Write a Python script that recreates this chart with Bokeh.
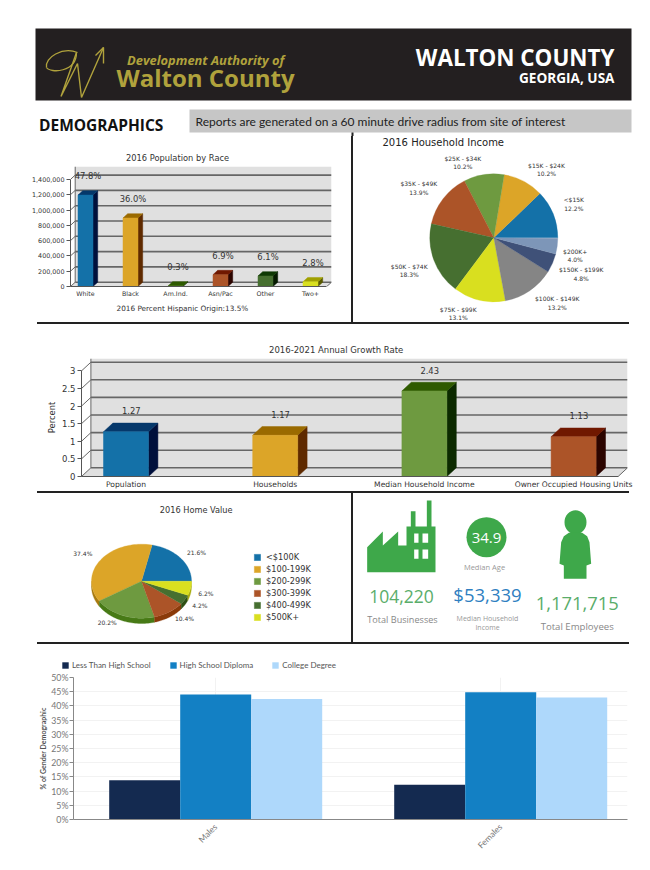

import math
import numpy as np
from bokeh.plotting import figure
from bokeh.layouts import column, row
from bokeh.embed import file_html
from bokeh.resources import INLINE
from bokeh.models import (Label, Range1d, FixedTicker, NumeralTickFormatter, Legend, LegendItem,
                          Spacer, Title)

# ---------------- data ----------------
race_cats = ["White", "Black", "Am.Ind.", "Asn/Pac", "Other", "Two+"]
race_vals = [1195000, 895000, 7500, 155000, 138000, 62000]
race_pcts = ["47.8%", "36.0%", "0.3%", "6.9%", "6.1%", "2.8%"]
race_ticks = [0, 200000, 400000, 600000, 800000, 1000000, 1200000, 1400000]

income_cats = ["<$15K", "$15K - $24K", "$25K - $34K", "$35K - $49K", "$50K - $74K",
               "$75K - $99K", "$100K - $149K", "$150K - $199K", "$200K+"]
income_vals = [12.2, 10.2, 10.2, 13.9, 18.3, 13.1, 13.2, 4.8, 4.0]

growth_cats = ["Population", "Households", "Median Household Income", "Owner Occupied Housing Units"]
growth_vals = [1.27, 1.17, 2.43, 1.13]
growth_ticks = [0, 0.5, 1, 1.5, 2, 2.5, 3]

home_cats = ["<$100K", "$100-199K", "$200-299K", "$300-399K", "$400-499K", "$500K+"]
home_vals = [21.6, 37.4, 20.2, 10.4, 4.2, 6.2]

edu_groups = ["Males", "Females"]
edu_series = ["Less Than High School", "High School Diploma", "College Degree"]
edu_less = [13.8, 12.2]
edu_hs = [44.0, 44.8]
edu_college = [42.4, 43.0]

# ---------------- styles ----------------
FRONT = ["#1471a8", "#dca528", "#6e9a40", "#ac5428", "#466f30", "#d9df1f"]
TOP = ["#05386b", "#9a6a00", "#2f5a00", "#701800", "#0f3a05", "#a0a000"]
SIDE = ["#00103c", "#5f2a00", "#0c2a00", "#2c0500", "#051a00", "#5a5a00"]
PIE_SIDE = ["#0c4a78", "#a87a10", "#477a16", "#8a3a0a", "#2e5015", "#a8ac10"]
INCOME_COL = FRONT + ["#858585", "#3f5178", "#7d96b8"]
EDU_COL = ["#142a50", "#1380c4", "#aed8fb"]
WALL = "#e0e0e0"
GRID = "#666666"
TXT = "#333333"
VF = "DejaVu Sans"
GREEN = "#3ea84a"
GOLD = "#b0a23c"


def base_fig(w, h, xr, yr, **kw):
    p = figure(width=w, height=h, x_range=Range1d(*xr), y_range=Range1d(*yr),
               output_backend="svg", toolbar_location=None, **kw)
    p.outline_line_color = None
    p.background_fill_color = None
    p.border_fill_color = "white"
    p.grid.visible = False
    return p


def blank_fig(w, h, xr, yr):
    p = base_fig(w, h, xr, yr, x_axis_location=None, y_axis_location=None,
                 min_border_left=0, min_border_right=0, min_border_top=0, min_border_bottom=0)
    return p


class Map:
    """image pixel -> data coordinates for a frame"""
    def __init__(self, l, r, t, b, xs, xe, ys, ye):
        self.__dict__.update(locals())

    def x(self, px):
        return self.xs + (px - self.l) / (self.r - self.l) * (self.xe - self.xs)

    def y(self, py):
        return self.ys + (self.b - py) / (self.b - self.t) * (self.ye - self.ys)


def tx(p, m, px, py, text, size, color=TXT, font=VF, align="center", style="normal", angle=0, baseline="middle"):
    p.add_layout(Label(x=m.x(px), y=m.y(py), text=text, text_font=font, text_font_size=f"{size}px",
                       text_color=color, text_align=align, text_baseline=baseline,
                       text_font_style=style, angle=angle, x_units="data", y_units="data"))


def side_title(p, side, text, size, offset, standoff):
    p.add_layout(Title(text=text, align="left", offset=offset, standoff=standoff, text_font=VF,
                       text_font_size=f"{size}px", text_font_style="normal", text_color=TXT), side)


def bars3d(p, xs, vals, halfw, dx, dy, front, top, side):
    xs = np.asarray(xs, float)
    vals = np.asarray(vals, float)
    tx_ = [[x - halfw, x + halfw, x + halfw + dx, x - halfw + dx] for x in xs]
    ty_ = [[v, v, v + dy, v + dy] for v in vals]
    sx_ = [[x + halfw, x + halfw + dx, x + halfw + dx, x + halfw] for x in xs]
    sy_ = [[0, dy, v + dy, v] for v in vals]
    p.patches(sx_, sy_, fill_color=side, line_color=side, line_width=0.5)
    p.patches(tx_, ty_, fill_color=top, line_color=top, line_width=0.5)
    p.quad(left=xs - halfw, right=xs + halfw, bottom=0, top=vals, fill_color=front, line_color=front, line_width=0.5)


def wall3d(p, xs, xe, ye, dx, dy, ticks):
    p.quad(left=[xs + dx], right=[xe], bottom=[dy], top=[ye], fill_color=WALL, line_color=None)
    p.patch([xs, xs + dx, xe, xe - dx], [0, dy, dy, 0], fill_color=WALL, line_color=None)
    p.line([xe, xe - dx], [dy, 0], line_color=GRID, line_width=1)
    p.segment(x0=[xs + dx] * len(ticks), x1=[xe] * len(ticks),
              y0=[t + dy for t in ticks], y1=[t + dy for t in ticks], line_color=GRID, line_width=1.6)
    p.segment(x0=[xs] * len(ticks), x1=[xs + dx] * len(ticks),
              y0=list(ticks), y1=[t + dy for t in ticks], line_color=GRID, line_width=1)
    p.line([xs + dx, xs + dx], [dy, ye], line_color=GRID, line_width=1)


def style_axes(p, ysize, xsize, ylabel_standoff=3, xstandoff=3):
    p.yaxis.major_label_text_font = VF
    p.yaxis.major_label_text_font_size = f"{ysize}px"
    p.yaxis.major_label_text_color = TXT
    p.yaxis.axis_line_color = "#555555"
    p.yaxis.major_tick_line_color = "#555555"
    p.yaxis.major_tick_in = 0
    p.yaxis.major_tick_out = 4
    p.yaxis.minor_tick_line_color = None
    p.yaxis.major_label_standoff = ylabel_standoff
    p.xaxis.major_label_text_font = VF
    p.xaxis.major_label_text_font_size = f"{xsize}px"
    p.xaxis.major_label_text_color = TXT
    p.xaxis.axis_line_color = "#555555"
    p.xaxis.major_tick_line_color = None
    p.xaxis.minor_tick_line_color = None
    p.xaxis.major_tick_out = 0
    p.xaxis.major_tick_in = 0
    p.xaxis.major_label_standoff = xstandoff


# ---------------- header ----------------
HEAD_B = 136
hm = Map(8, 642, 8, HEAD_B, 8, 642, HEAD_B, 8)
header = blank_fig(634, HEAD_B - 8, (8, 642), (HEAD_B, 8))
header.quad(left=[35], right=[631], top=[28], bottom=[100], fill_color="#231f20", line_color=None)
header.quad(left=[189], right=[631], top=[109], bottom=[132], fill_color="#c6c6c6", line_color=None)
header.quad(left=[351], right=[353], top=[132], bottom=[HEAD_B], fill_color="#222222", line_color=None)
# logo scrawl
header.bezier(x0=[77], y0=[52], x1=[46], y1=[67], cx0=[62], cy0=[46], cx1=[44], cy1=[57],
              line_color=GOLD, line_width=1.3)
header.bezier(x0=[46], y0=[67], x1=[76], y1=[52], cx0=[50], cy0=[73], cx1=[76], cy1=[72],
              line_color=GOLD, line_width=1.3)
header.multi_line([[76, 60.5, 77, 81, 103], [95, 103, 103]],
                  [[52, 96, 63, 97, 47], [55, 47, 63]], line_color=GOLD, line_width=1.4)
tx(header, hm, 126.5, 59, "Development Authority of", 12.9, GOLD, "Open Sans", "left", "bold italic")
tx(header, hm, 116, 77, "Walton County", 24, GOLD, "Open Sans", "left", "bold")
tx(header, hm, 614, 57, "WALTON COUNTY", 22.4, "white", "Open Sans", "right", "bold")
tx(header, hm, 614, 76.5, "GEORGIA, USA", 13.6, "white", "Open Sans", "right", "bold")
tx(header, hm, 38.5, 124, "DEMOGRAPHICS", 15.5, "#111111", "Open Sans", "left", "bold")
tx(header, hm, 195, 121, "Reports are generated on a 60 minute drive radius from site of interest",
   12, "#222222", "Lato", "left")

# ---------------- population by race ----------------
R_L, R_R, R_T, R_B = 70, 331, 166, 286
R_PXV = 15.3 / 200000
rxs, rxe = (R_L - 85) / 45, (R_R - 85) / 45
rye = (R_B - R_T) / R_PXV
rm = Map(R_L, R_R, R_T, R_B, rxs, rxe, 0, rye)
race = base_fig(343, 322 - HEAD_B, (rxs, rxe), (0, rye), min_border_left=R_L - 8, min_border_right=351 - R_R,
                min_border_top=R_T - HEAD_B, min_border_bottom=322 - R_B)
R_DX, R_DY = 4.7 / 45, 4.3 / R_PXV
wall3d(race, rxs, rxe, rye, R_DX, R_DY, race_ticks)
rx = np.arange(len(race_cats))
bars3d(race, rx, race_vals, 7.5 / 45, R_DX, R_DY, FRONT, TOP, SIDE)
race.text(x=rx + 2.5 / 45, y=race_vals, text=race_pcts, y_offset=-18.6, text_align="center",
          text_baseline="middle", text_font_size="8.4px", text_font={"value": VF}, text_color=TXT)
race.xaxis.ticker = FixedTicker(ticks=list(rx))
race.xaxis.major_label_overrides = {int(i): c for i, c in enumerate(race_cats)}
race.yaxis.ticker = FixedTicker(ticks=race_ticks)
race.yaxis.formatter = NumeralTickFormatter(format="0,0")
race.xaxis.bounds = (rxs, rxe - R_DX)
race.yaxis.bounds = (0, 1400000)
style_axes(race, 6.4, 6.3, 2, 3)
side_title(race, "above", "2016 Population by Race", 8.3, 55.5, 7)
side_title(race, "below", "2016 Percent Hispanic Origin:13.5%", 7.3, 46, 5)

# ---------------- household income ----------------
IC_X, IC_Y, IC_R = 493.3, 237.3, 64
im = Map(353, 642, HEAD_B, 322, 353 - IC_X, 642 - IC_X, IC_Y - 322, IC_Y - HEAD_B)
income = blank_fig(289, 322 - HEAD_B, (353 - IC_X, 642 - IC_X), (IC_Y - 322, IC_Y - HEAD_B))
fr = np.cumsum([0] + income_vals) / 100 * 2 * math.pi
income.wedge(x=[0] * len(income_vals), y=[0] * len(income_vals), radius=IC_R, start_angle=fr[:-1], end_angle=fr[1:],
             fill_color=INCOME_COL, line_color=INCOME_COL, line_width=0.3)
income_lab = [(573.3, 199.3), (546, 165), (462.3, 158), (418.3, 183.3), (408.7, 266),
              (457.7, 308.7), (556.7, 298.3), (580.7, 269.3), (574.7, 250.7)]
for (lx, ly), c, v in zip(income_lab, income_cats, income_vals):
    tx(income, im, lx, ly, c, 6)
    tx(income, im, lx, ly + 8.3, f"{v:.1f}%", 6)
tx(income, im, 382, 142, "2016 Household Income", 10, "#222222", VF, "left")

# ---------------- growth ----------------
G_L, G_R, G_T, G_B = 81, 627, 358, 476
G_PXV, G_STEP, G_C0 = 35.2, 149.2, 125.5
gxs, gxe = (G_L - G_C0) / G_STEP, (G_R - G_C0) / G_STEP
gye = (G_B - G_T) / G_PXV
gm = Map(G_L, G_R, G_T, G_B, gxs, gxe, 0, gye)
growth = base_fig(634, 167, (gxs, gxe), (0, gye), min_border_left=G_L - 8, min_border_right=642 - G_R,
                  min_border_top=G_T - 324, min_border_bottom=491 - G_B)
G_DX, G_DY = 9.4 / G_STEP, 8.7 / G_PXV
wall3d(growth, gxs, gxe, gye, G_DX, G_DY, growth_ticks)
gx = np.arange(len(growth_cats))
bars3d(growth, gx, growth_vals, 22.5 / G_STEP, G_DX, G_DY, FRONT[:4], TOP[:4], SIDE[:4])
growth.text(x=gx + 5.3 / G_STEP, y=growth_vals, text=[f"{v:.2f}" for v in growth_vals], y_offset=-20.8,
            text_align="center", text_baseline="middle", text_font_size="8.4px",
            text_font={"value": VF}, text_color=TXT)
growth.xaxis.ticker = FixedTicker(ticks=list(gx))
growth.xaxis.major_label_overrides = {int(i): c for i, c in enumerate(growth_cats)}
growth.yaxis.ticker = FixedTicker(ticks=growth_ticks)
growth.yaxis.major_label_overrides = {t: f"{t:g}" for t in growth_ticks}
growth.xaxis.bounds = (gxs, gxe - G_DX)
growth.yaxis.bounds = (0, 3)
style_axes(growth, 8.5, 7.6, 2, 3)
growth.yaxis.axis_label = "Percent"
growth.yaxis.axis_label_text_font = VF
growth.yaxis.axis_label_text_font_size = "8.4px"
growth.yaxis.axis_label_text_font_style = "normal"
growth.yaxis.axis_label_text_color = TXT
growth.yaxis.axis_label_standoff = 2
side_title(growth, "above", "2016-2021 Annual Growth Rate", 8.5, 187.5, 7)

# ---------------- home value ----------------
H_X, H_Y, H_RX, H_RY, H_D = 141, 580.7, 50, 37, 5.3
hxr = ((8 - H_X) / H_RX, (351 - H_X) / H_RX)
hyr = ((H_Y - 642) / H_RY, (H_Y - 493) / H_RY)
vm = Map(8, 351, 493, 642, hxr[0], hxr[1], hyr[0], hyr[1])
home = blank_fig(343, 149, hxr, hyr)
hf = np.cumsum([0] + home_vals) / 100 * 2 * math.pi
depth = H_D / H_RY
rends = []
for i in range(len(home_vals)):
    a0, a1 = hf[i], hf[i + 1]
    s0, s1 = max(a0, math.pi), max(a1, math.pi)
    if s1 > s0:
        t = np.linspace(s0, s1, 40)
        home.patch(np.r_[np.cos(t), np.cos(t[::-1])], np.r_[np.sin(t), np.sin(t[::-1]) - depth],
                   fill_color=PIE_SIDE[i], line_color=PIE_SIDE[i], line_width=0.3)
for i, c in enumerate(home_cats):
    t = np.linspace(hf[i], hf[i + 1], 60)
    r = home.patch(np.r_[0, np.cos(t)], np.r_[0, np.sin(t)], fill_color=FRONT[i], line_color=FRONT[i], line_width=0.3)
    rends.append(LegendItem(label=c, renderers=[r]))
home_lab = [(196, 551.7), (82.3, 553.3), (106.7, 622.3), (184, 617.7), (199.3, 604.7), (205.3, 592.7)]
for (lx, ly), v in zip(home_lab, home_vals):
    tx(home, vm, lx, ly, f"{v:.1f}%", 6)
tx(home, vm, 195.7, 509.3, "2016 Home Value", 8.2)
leg = Legend(items=rends, location=(245, 20), glyph_width=8, glyph_height=8, spacing=2, padding=0, margin=0,
             label_standoff=5, label_height=9, label_text_font=VF, label_text_font_size="8.2px", label_text_color=TXT,
             background_fill_alpha=0, border_line_color=None)
home.add_layout(leg)

# ---------------- stats ----------------
sm = Map(353, 642, 493, 642, 353, 642, 642, 493)
stats = blank_fig(289, 149, (353, 642), (642, 493))
def zx(v): return [355 + a / 3 for a in v]
def zy(v): return [495 + a / 3 for a in v]
stats.patch(zx([35, 35, 82, 82, 128, 128, 153, 153, 166, 166, 180, 180, 214, 214, 228, 228, 240, 240]),
            zy([230, 155, 108, 150, 108, 150, 150, 93, 93, 47, 47, 93, 93, 15, 15, 93, 93, 230]),
            fill_color=GREEN, line_color=None)
stats.quad(left=zx([176, 201, 176, 201]), right=zx([189, 218, 189, 218]),
           top=zy([114, 114, 162, 162]), bottom=zy([142, 142, 190, 190]), fill_color="white", line_color=None)
stats.circle(x=[486], y=[536.7], radius=20, fill_color=GREEN, line_color=None)
stats.ellipse(x=[355 + 660 / 3], y=[495 + 80 / 3], width=22, height=24, fill_color=GREEN, line_color=None)
stats.patch(zx([640, 680, 695, 702, 707, 693, 693, 625, 625, 612, 617, 625]),
            zy([112, 112, 122, 140, 205, 210, 250, 250, 210, 205, 140, 122]), fill_color=GREEN, line_color=None)
OS = "Open Sans"
tx(stats, sm, 486, 537, "34.9", 15, "white", OS)
tx(stats, sm, 484, 566.7, "Median Age", 7.5, "#999999", OS)
tx(stats, sm, 401, 595.7, "104,220", 17.5, "#5aad6a", OS)
tx(stats, sm, 402, 619, "Total Businesses", 9.1, "#888888", OS)
tx(stats, sm, 487, 594, "$53,339", 18.5, "#2f7fc1", OS)
tx(stats, sm, 487, 617.7, "Median Household", 7, "#999999", OS)
tx(stats, sm, 487, 627.3, "Income", 7, "#999999", OS)
tx(stats, sm, 576.7, 602.7, "1,171,715", 18.4, "#5aad6a", OS)
tx(stats, sm, 576.7, 626, "Total Employees", 9.6, "#888888", OS)

# ---------------- education: legend strip ----------------
E_L, E_R, E_T, E_B = 73, 627, 677, 819
E_TOP = 670
legfig = blank_fig(634, E_TOP - 644, (0, 1), (0, 1))
# legend keys: single quads lying outside the strip's range, only their colours show in the legend
lrs = [legfig.quad(left=[2], right=[3], top=[3], bottom=[2], fill_color=c, line_color=None) for c in EDU_COL]
eleg = Legend(items=[LegendItem(label=s, renderers=[r]) for s, r in zip(edu_series, lrs)],
              orientation="horizontal", location=(53, 0), glyph_width=8, glyph_height=8, spacing=18,
              padding=0, margin=0, label_standoff=3, label_height=9, label_text_font="Lato",
              label_text_font_size="8px", label_text_color="#555555", background_fill_alpha=0,
              border_line_color=None)
legfig.add_layout(eleg)

# ---------------- education: bars ----------------
exr = ((E_L - 215.2) / 285, (E_R - 215.2) / 285)
edu = base_fig(634, 862 - E_TOP, exr, (0, 50), min_border_left=E_L - 8, min_border_right=642 - E_R,
               min_border_top=E_T - E_TOP, min_border_bottom=862 - E_B)
BW = 71 / 285
ex = np.arange(len(edu_groups))
edu.vbar(x=ex - BW, width=BW, top=edu_less, fill_color=EDU_COL[0], line_color=None)
edu.vbar(x=ex, width=BW, top=edu_hs, fill_color=EDU_COL[1], line_color=None)
edu.vbar(x=ex + BW, width=BW, top=edu_college, fill_color=EDU_COL[2], line_color=None)
edu.grid.visible = True
edu.xgrid.ticker = FixedTicker(ticks=list(ex))
edu.ygrid.ticker = FixedTicker(ticks=list(range(0, 55, 5)))
edu.grid.grid_line_color = "#f2f2f2"
edu.xaxis.ticker = FixedTicker(ticks=list(ex))
edu.xaxis.major_label_overrides = {int(i): c for i, c in enumerate(edu_groups)}
edu.xaxis.major_label_orientation = math.pi / 4
edu.yaxis.ticker = FixedTicker(ticks=list(range(0, 55, 5)))
edu.yaxis.major_label_overrides = {v: f"{v}%" for v in range(0, 55, 5)}
for ax in (edu.xaxis, edu.yaxis):
    ax.major_label_text_font = "Lato"
    ax.major_label_text_color = "#777777"
    ax.axis_line_color = "#888888"
    ax.minor_tick_line_color = None
edu.yaxis.major_label_text_font_size = "8.8px"
edu.yaxis.major_tick_in = 0
edu.yaxis.major_tick_out = 4
edu.yaxis.major_tick_line_color = "#888888"
edu.yaxis.major_label_standoff = 1
edu.yaxis.axis_label = "% of Gender Demographic"
edu.yaxis.axis_label_text_font = "Lato"
edu.yaxis.axis_label_text_font_size = "7px"
edu.yaxis.axis_label_text_font_style = "bold"
edu.yaxis.axis_label_text_color = "#555555"
edu.yaxis.axis_label_standoff = 1
edu.xaxis.major_tick_line_color = None
edu.xaxis.major_tick_out = 0
edu.xaxis.major_tick_in = 0
edu.xaxis.major_label_text_font_size = "8.5px"
edu.xaxis.major_label_standoff = 6


# ---------------- assembly ----------------
def vbar_(h):
    return Spacer(width=2, height=h, styles={"background-color": "#222222"})


def hbar_():
    return row(Spacer(width=29, height=2), Spacer(width=592, height=2, styles={"background-color": "#222222"}), spacing=0)


def W(f):
    # a layout of its own, so that neighbouring plots do not align their frames
    return column(f, spacing=0)


page = column(W(header),
              row(W(race), vbar_(322 - HEAD_B), W(income), spacing=0),
              hbar_(),
              W(growth),
              hbar_(),
              row(W(home), vbar_(149), W(stats), spacing=0),
              hbar_(),
              W(legfig),
              W(edu), spacing=0)
outer = row(Spacer(width=8, height=8), column(Spacer(width=8, height=8), page, spacing=0), spacing=0)

open("out.html", "w").write(file_html(outer, INLINE))
